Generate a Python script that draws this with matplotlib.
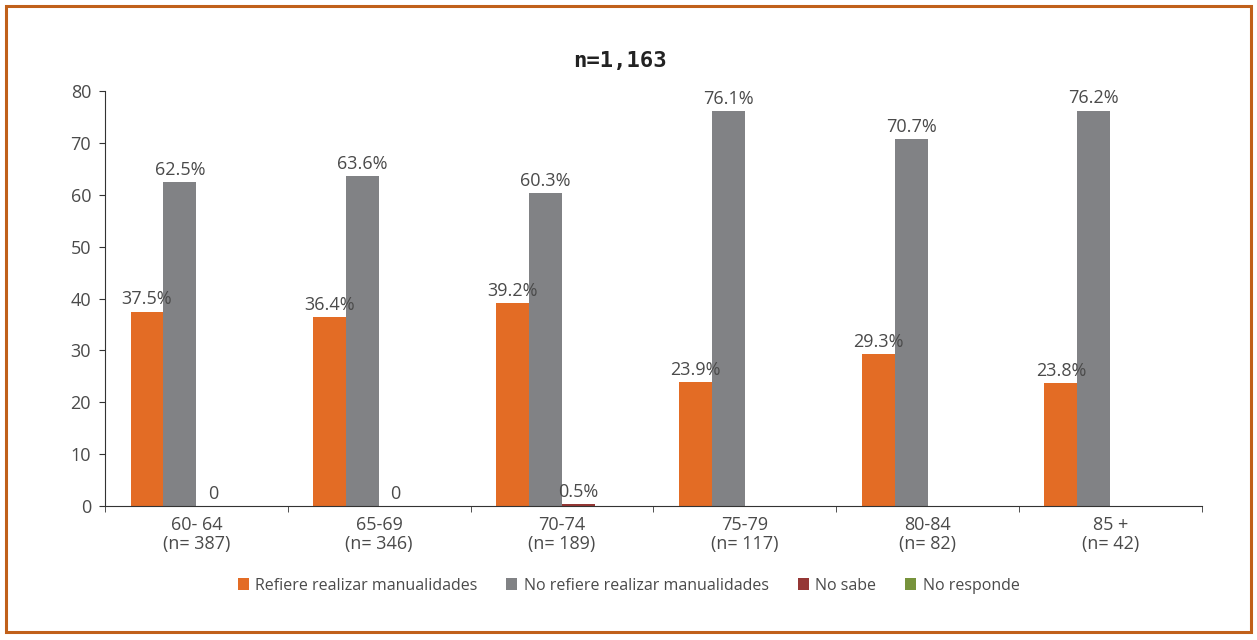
import numpy as np
import matplotlib.pyplot as plt
from matplotlib.patches import Rectangle

plt.rcParams['font.family'] = ['Open Sans', 'DejaVu Sans']

categories = ["60- 64\n(n= 387)", "65-69\n(n= 346)", "70-74\n(n= 189)",
              "75-79\n(n= 117)", "80-84\n(n= 82)", "85 +\n(n= 42)"]
refiere = [37.5, 36.4, 39.2, 23.9, 29.3, 23.8]
no_refiere = [62.5, 63.6, 60.3, 76.1, 70.7, 76.2]
no_sabe = [0, 0, 0.5, None, None, None]
no_responde = [None, None, None, None, None, None]

series = [
    ("Refiere realizar manualidades", refiere, "#E36C25"),
    ("No refiere realizar manualidades", no_refiere, "#818285"),
    ("No sabe", no_sabe, "#953735"),
    ("No responde", no_responde, "#77933C"),
]
text_col = "#4a4a4a"

fig = plt.figure(figsize=(12.57, 6.4), dpi=100)
ax = fig.add_axes([0.0835, 0.209, 0.8725, 0.649])

x = np.arange(len(categories))
w = 0.18
for i, (name, vals, col) in enumerate(series):
    h = [v if v is not None else 0 for v in vals]
    pos = x + (i - 1.5) * w
    ax.bar(pos, h, w, color=col, label=name)
    for p, v in zip(pos, vals):
        if v is None:
            continue
        txt = "0" if v == 0 else f"{v}%"
        ax.text(p, v + 0.6, txt, ha="center", va="bottom", fontsize=13, color=text_col)

ax.set_xlim(-0.5, len(categories) - 0.5)
ax.set_ylim(0, 80)
ax.set_yticks(range(0, 81, 10))
ax.set_xticks(x)
ax.set_xticklabels(categories, fontsize=13, color=text_col, linespacing=1.1)
ax.set_xticks(np.arange(-0.5, len(categories), 1), minor=True)
ax.tick_params(axis="x", which="major", length=0, pad=7)
ax.tick_params(axis="x", which="minor", length=4, color="#333333")
ax.tick_params(axis="y", length=4, labelsize=13, labelcolor=text_col, color="#333333", pad=6)
for s in ["top", "right"]:
    ax.spines[s].set_visible(False)
for s in ["left", "bottom"]:
    ax.spines[s].set_color("#333333")

fig.text(0.493, 0.905, "n=1,163", ha="center", va="center", fontsize=16,
         fontweight="bold", family="DejaVu Sans Mono", color="#222222")

leg = fig.legend(loc="center", bbox_to_anchor=(0.5, 0.085), ncol=4, frameon=False,
                 fontsize=11.5, handlelength=0.7, handleheight=0.7, handletextpad=0.4,
                 columnspacing=1.8)
for t in leg.get_texts():
    t.set_color(text_col)

fig.patches.append(Rectangle((0.005, 0.012), 0.99, 0.978, transform=fig.transFigure,
                             fill=False, edgecolor="#C0601A", linewidth=2.2))

fig.savefig("out.png", dpi=100)
